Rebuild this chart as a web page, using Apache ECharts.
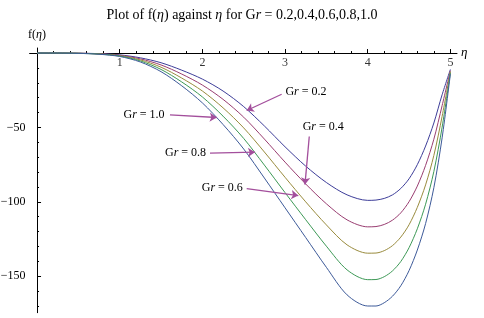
<!DOCTYPE html>
<html>
<head>
<meta charset="utf-8">
<script src="https://cdn.jsdelivr.net/npm/echarts@6/dist/echarts.min.js"></script>
<style>
  html, body { margin: 0; padding: 0; background: #fff; }
  #chart { width: 484px; height: 318px; }
</style>
</head>
<body>
<div id="chart"></div>
<script>
// eta grid and f(eta) for each Gr
const etaValues = [0, 0.25, 0.5, 0.75, 1, 1.25, 1.5, 1.75, 2, 2.25, 2.5, 2.75, 3, 3.25, 3.5, 3.75, 4, 4.1, 4.2, 4.3, 4.4, 4.5, 4.6, 4.7, 4.8, 4.9, 5];
const fGr02 = [0, 0, -0.1, -0.4, -1.2, -3.2, -6.5, -11.5, -17.5, -25.5, -36, -49, -63, -76, -87, -95.3, -99, -98.8, -97.7, -95.3, -91, -84.5, -75, -62.5, -47, -28, -11];
const fGr04 = [0, 0, -0.13, -0.5, -1.5, -3.9, -8, -14.1, -21.5, -31.1, -43.1, -57.8, -73.3, -88, -101.3, -112.1, -116.8, -116.6, -115.2, -112.3, -107.4, -99.9, -89.4, -75.5, -57.9, -35.3, -11.8];
const fGr06 = [0, 0, -0.15, -0.6, -1.8, -4.6, -9.5, -16.8, -25.5, -36.8, -50.3, -66.5, -83.5, -100, -115.5, -128.9, -134.5, -134.4, -132.8, -129.4, -123.7, -115.4, -103.7, -88.6, -68.8, -42.5, -12.5];
const fGr08 = [0, 0, -0.18, -0.7, -2.0, -5.3, -11, -19.4, -29.5, -42.4, -57.4, -75.3, -93.8, -112, -129.8, -145.7, -152.3, -152.2, -150.3, -146.4, -140.1, -130.8, -118.1, -101.6, -79.6, -49.8, -13.3];
const fGr10 = [0, 0, -0.2, -0.8, -2.3, -6, -12.5, -22, -33.5, -48, -64.5, -84, -104, -124, -144, -162.5, -170, -170, -167.8, -163.4, -156.4, -146.2, -132.4, -114.6, -90.5, -57, -14];

const grNames = ['0.2', '0.4', '0.6', '0.8', '1.0'];
const seriesValues = [fGr02, fGr04, fGr06, fGr08, fGr10];

// ticks
const xMajorTicks = [1, 2, 3, 4, 5];
const xMinorTicks = [0.2, 0.4, 0.6, 0.8, 1.2, 1.4, 1.6, 1.8, 2.2, 2.4, 2.6, 2.8, 3.2, 3.4, 3.6, 3.8, 4.2, 4.4, 4.6, 4.8];
const yMajorTicks = [-150, -100, -50];
const yMinorTicks = [-170, -160, -140, -130, -120, -110, -90, -80, -70, -60, -40, -30, -20, -10];

// annotations (data coords)
const noteText = ['0.2', '0.4', '1.0', '0.8', '0.6'];
const noteLabelAt = [[3.253, -26.2], [3.462, -49.4], [1.294, -41.2], [1.796, -67.2], [2.241, -90.6]];
const noteFrom = [[2.959, -27.7], [3.293, -56.1], [1.608, -41.5], [2.092, -67.2], [2.536, -91.1]];
const noteTo = [[2.536, -38.6], [3.241, -88.4], [2.173, -43.3], [2.636, -66.6], [3.160, -95.8]];

const colors = ['#3d3d99', '#993d71', '#998b3d', '#3d9956', '#3d5a99'];
const serif = 'Liberation Serif';
const arrowColor = '#a34f9c';

const series = seriesValues.map((vals, k) => ({
  name: 'Gr = ' + grNames[k],
  type: 'line',
  data: etaValues.map((x, i) => [x, vals[i]]),
  smooth: 0.3,
  showSymbol: false,
  lineStyle: { color: colors[k], width: 1 },
  itemStyle: { color: colors[k] },
  silent: true,
  z: 3
}));

series[0].markLine = {
  silent: true,
  symbol: ['none', 'arrow'],
  symbolSize: 7,
  lineStyle: { color: arrowColor, width: 1.3, type: 'solid' },
  label: { show: false },
  emphasis: { disabled: true },
  data: noteFrom.map((p, i) => [{ coord: p }, { coord: noteTo[i] }])
};
series[0].markPoint = {
  silent: true,
  symbol: 'circle',
  symbolSize: 1,
  itemStyle: { color: 'rgba(0,0,0,0)' },
  label: {
    show: true,
    position: 'inside',
    rich: {
      g: { fontFamily: serif, fontSize: 12, color: '#000' },
      r: { fontFamily: serif, fontSize: 12, fontStyle: 'italic', color: '#000' }
    }
  },
  data: noteLabelAt.map((p, i) => ({
    coord: p,
    label: { formatter: '{g|G}{r|r}{g| = ' + noteText[i] + '}' }
  }))
};

// x tick labels sit on the axis line (f = 0)
series.push({
  type: 'scatter',
  data: xMajorTicks.map(v => [v, 0]),
  symbolSize: 0,
  silent: true,
  itemStyle: { color: 'rgba(0,0,0,0)' },
  label: {
    show: true,
    position: 'bottom',
    distance: 4,
    fontFamily: serif,
    fontSize: 12,
    color: '#000',
    formatter: p => String(p.value[0])
  },
  z: 5
});

const xBase = {
  type: 'value', min: -0.09, max: 5.08, position: 'bottom',
  splitLine: { show: false }
};
const yBase = {
  type: 'value', min: -174.5, max: 3.4, position: 'left',
  splitLine: { show: false }
};

const option = {
  animation: false,
  backgroundColor: '#fff',
  title: {
    text: '{n|Plot of f(}{i|η}{n|) against }{i|η}{n| for G}{i|r}{n| = 0.2,0.4,0.6,0.8,1.0}',
    left: 'center',
    top: 3,
    textStyle: {
      rich: {
        n: { fontFamily: serif, fontSize: 14, fontWeight: 'normal', color: '#000' },
        i: { fontFamily: serif, fontSize: 14, fontWeight: 'normal', fontStyle: 'italic', color: '#000' }
      }
    }
  },
  grid: { left: 29.6, right: 27, top: 48, bottom: 5.3, outerBoundsMode: 'none' },
  xAxis: [
    Object.assign({}, xBase, {
      name: 'η',
      nameLocation: 'end',
      nameGap: 4,
      nameTextStyle: { fontFamily: serif, fontSize: 13, fontStyle: 'italic', color: '#000', padding: [5, 0, 0, 0] },
      axisLine: { onZero: true, onZeroAxisIndex: 0, lineStyle: { color: '#000', width: 1 } },
      axisTick: { inside: true, length: 4, customValues: xMajorTicks, lineStyle: { color: '#000' } },
      axisLabel: { show: false }
    }),
    Object.assign({}, xBase, {
      axisLine: { show: false, onZero: true, onZeroAxisIndex: 0 },
      axisTick: { inside: true, length: 2, customValues: xMinorTicks, lineStyle: { color: '#000' } },
      axisLabel: { show: false }
    })
  ],
  yAxis: [
    Object.assign({}, yBase, {
      name: '{n|f(}{i|η}{n|)}',
      nameLocation: 'end',
      nameGap: 7,
      nameTextStyle: { rich: { n: { fontFamily: serif, fontSize: 12, color: '#000' }, i: { fontFamily: serif, fontSize: 12, fontStyle: 'italic', color: '#000' } } },
      axisLine: { onZero: true, onZeroAxisIndex: 0, lineStyle: { color: '#000', width: 1 } },
      axisTick: { inside: true, length: 4, customValues: yMajorTicks, lineStyle: { color: '#000' } },
      axisLabel: {
        customValues: yMajorTicks, margin: 4, fontFamily: serif, fontSize: 12, color: '#000',
        formatter: v => (v < 0 ? '\u2212' + Math.abs(v) : String(v))
      }
    }),
    Object.assign({}, yBase, {
      axisLine: { show: false, onZero: true, onZeroAxisIndex: 0 },
      axisTick: { inside: true, length: 2, customValues: yMinorTicks, lineStyle: { color: '#000' } },
      axisLabel: { show: false }
    })
  ],
  series: series
};

const chart = echarts.init(document.getElementById('chart'), null, { renderer: 'canvas' });
chart.setOption(option);
</script>
</body>
</html>
